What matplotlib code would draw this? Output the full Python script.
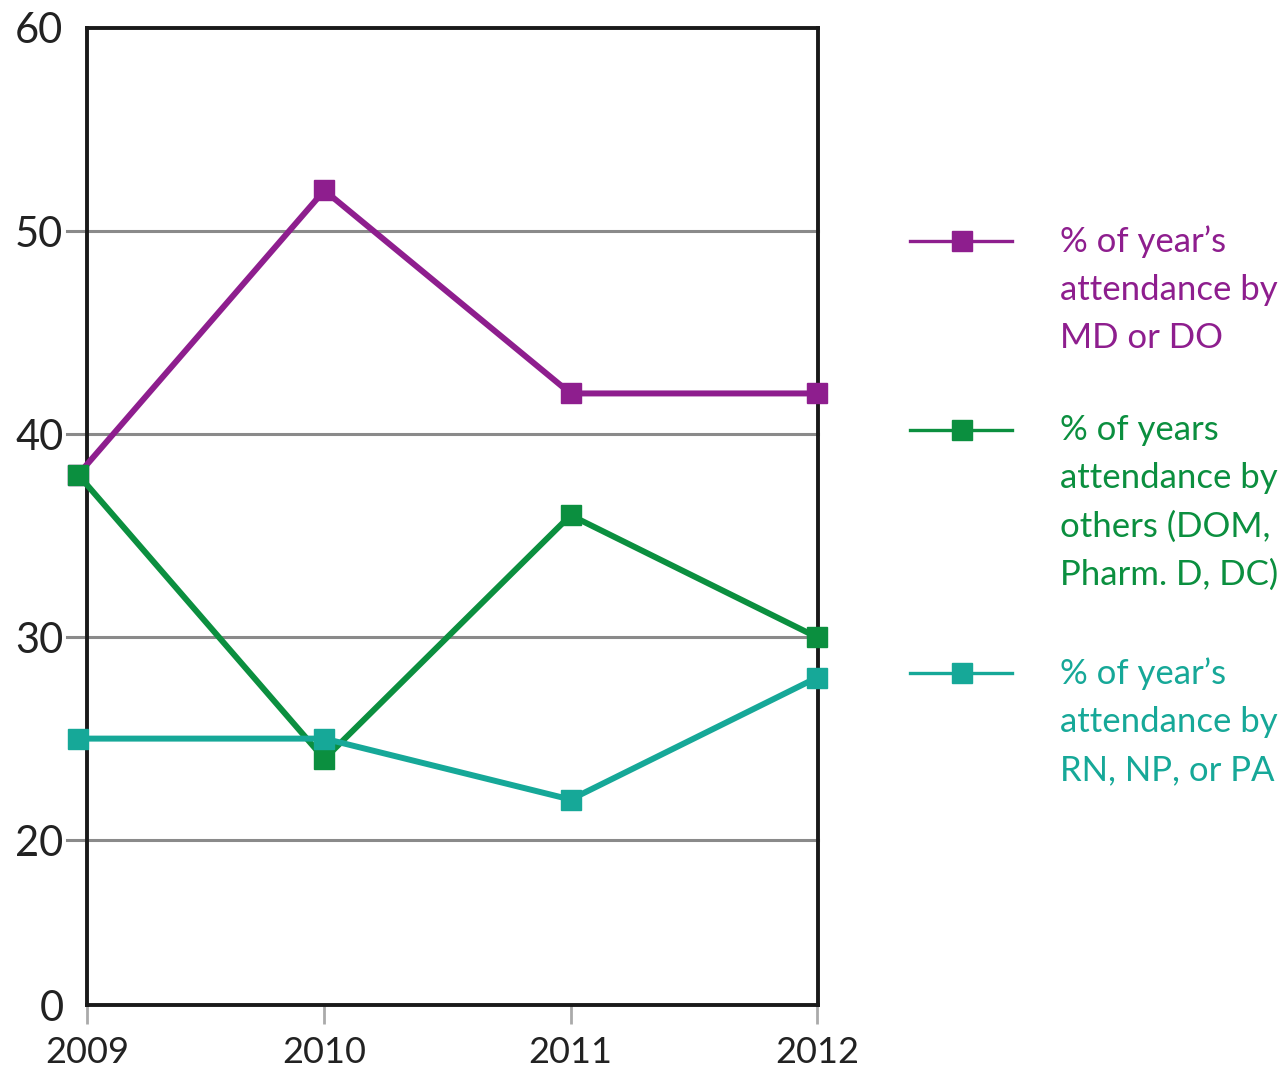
import matplotlib
matplotlib.use('Agg')
import matplotlib.pyplot as plt
from matplotlib.lines import Line2D
import numpy as np

plt.rcParams['font.family'] = ['Lato', 'DejaVu Sans']

years = [2009, 2010, 2011, 2012]
md_do = [38, 52, 42, 42]
others = [38, 24, 36, 30]
rn_np_pa = [25, 25, 22, 28]

labels = ["% of year\u2019s\nattendance by\nMD or DO",
          "% of years\nattendance by\nothers (DOM,\nPharm. D, DC)",
          "% of year\u2019s\nattendance by\nRN, NP, or PA"]
colors = ['#8e1e8e', '#0b8f3f', '#16a898']
y_ticks = [0, 20, 30, 40, 50, 60]

# the 0-20 stretch of the axis is squashed in the original
k = 0.406
def fwd(v):
    v = np.asarray(v, dtype=float)
    return np.where(v < 20, v * k, 20 * k + (v - 20))

def inv(p):
    p = np.asarray(p, dtype=float)
    return np.where(p < 20 * k, p / k, p - 20 * k + 20)

fig = plt.figure(figsize=(12.83, 10.67), dpi=100)
ax = fig.add_axes([0.0678, 0.0581, 0.5698, 0.9157])
ax.set_yscale('function', functions=(fwd, inv))
ax.set_ylim(0, 60)
xlo = 2009.036
ax.set_xlim(xlo, 2012.005)

for ys, c in zip([md_do, others, rn_np_pa], colors):
    ax.plot(years, ys, color=c, lw=4.3, marker='s', ms=15, mfc=c, mec=c,
            clip_on=False, zorder=3)

# grid lines, poking out a little to the left of the spine
for g in y_ticks[1:-1]:
    ax.axhline(g, xmin=-0.027, xmax=1, color='#8a8a8a', lw=2.2, zorder=1,
               clip_on=False)

ax.set_yticks(y_ticks)
ax.set_yticklabels([str(t) for t in y_ticks], fontsize=30, color='#222222')
ax.tick_params(axis='y', length=0, pad=17)

ax.set_xticks([max(y, xlo) for y in years])
ax.set_xticklabels([str(y) for y in years], fontsize=26, color='#222222')
ax.tick_params(axis='x', length=14, width=2, color='#aaaaaa', pad=8)

for s in ax.spines.values():
    s.set_linewidth(2.8)
    s.set_color('#1a1a1a')

# legend drawn by hand so the handle sits on the first text line
W, H = 1283, 1067
leg_y = [241, 430, 673]
for ly, lab, c in zip(leg_y, labels, colors):
    yf = 1 - ly / H
    fig.add_artist(Line2D([910 / W, 1012 / W], [yf, yf], color=c, lw=2.4,
                          transform=fig.transFigure))
    fig.add_artist(Line2D([962 / W], [yf], color=c, marker='s', ms=15,
                          transform=fig.transFigure))
    fig.text(1060 / W, yf + 16 / H, lab, color=c, fontsize=25, va='top',
             ha='left', linespacing=1.62)

fig.savefig('out.png', dpi=100)
